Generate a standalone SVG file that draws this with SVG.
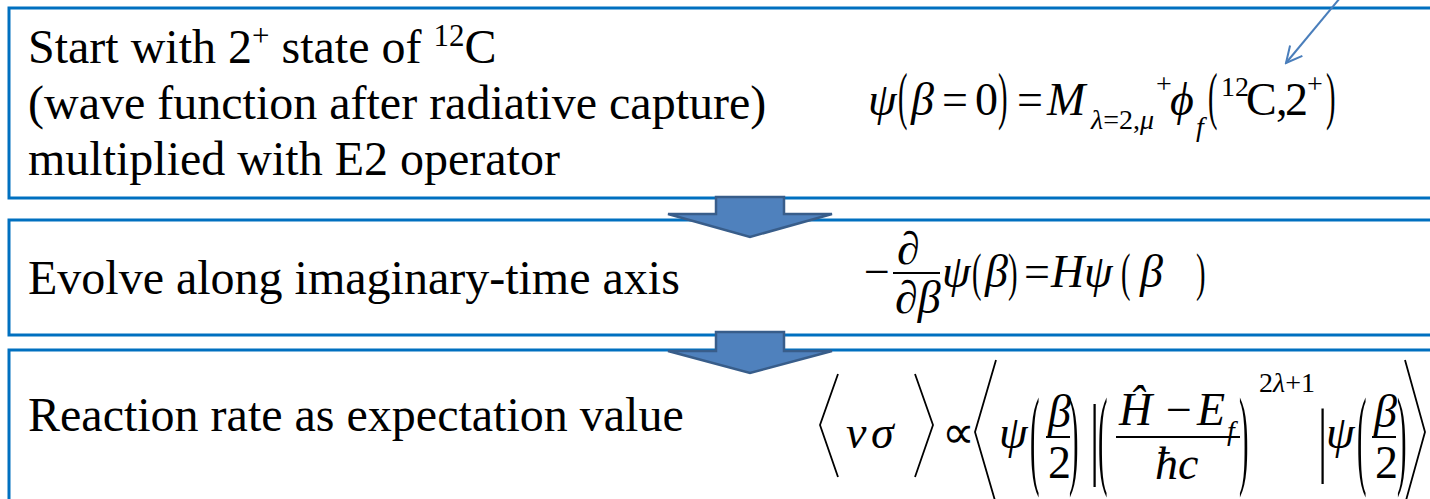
<svg xmlns="http://www.w3.org/2000/svg" width="1430" height="499" viewBox="0 0 1430 499">
<defs>
<style>
.box{fill:#fff;stroke:#0070C0;stroke-width:3}
.blk{fill:#4F81BD;stroke:#385D8A;stroke-width:2.5;stroke-linejoin:miter}
.t{font-size:48px;fill:#000}
.sup{font-size:31px}
.m{font-size:46px;font-style:italic;fill:#000}
.r{font-size:46px;fill:#000}
.s{font-size:28px;fill:#000}
.si{font-size:28px;font-style:italic;fill:#000}
.bar{stroke:#000;stroke-width:2}
.ang{fill:none;stroke:#000;stroke-width:1.8;stroke-linejoin:miter}
</style>
<marker id="vhead" viewBox="0 0 20 20" refX="18" refY="10" markerWidth="20" markerHeight="20" markerUnits="userSpaceOnUse" orient="auto">
<path d="M2,2 L18,10 L2,18" fill="none" stroke="#4A7EBB" stroke-width="2"/>
</marker>
</defs>

<g id="node1" font-family="'Liberation Serif', 'Times New Roman', serif">
<rect class="box" x="9" y="8" width="1440" height="190"/>
<text class="t" x="28" y="63">Start with 2<tspan class="sup" dy="-17">+</tspan><tspan dy="17"> state of </tspan><tspan class="sup" dy="-17">12</tspan><tspan dy="17">C</tspan></text>
<text class="t" x="28" y="119">(wave function after radiative capture)</text>
<text class="t" x="28" y="175">multiplied with E2 operator</text>
<g id="eq1">
<text class="m" x="868" y="115">ψ</text>
<text class="r" transform="translate(898,117) scale(0.62,1.4)">(</text>
<text class="m" x="911" y="115">β</text>
<text class="r" x="942" y="115">=</text>
<text class="r" x="975" y="115">0</text>
<text class="r" transform="translate(998,117) scale(0.62,1.4)">)</text>
<text class="r" x="1017" y="115">=</text>
<text class="m" x="1047" y="115">M</text>
<text class="s" x="1091" y="129"><tspan font-style="italic">λ</tspan>=2,<tspan font-style="italic">μ</tspan></text>
<text class="s" x="1156" y="93">+</text>
<text class="m" x="1170" y="115">ϕ</text>
<text class="si" x="1196" y="136">f</text>
<text class="r" transform="translate(1208,117) scale(0.62,1.4)">(</text>
<text class="s" x="1221" y="96" font-size="24">12</text>
<text class="r" x="1246" y="115">C</text>
<text class="r" x="1276" y="115">,</text>
<text class="r" x="1285" y="115">2</text>
<text class="s" x="1307" y="93" font-size="24">+</text>
<text class="r" transform="translate(1326,117) scale(0.62,1.4)">)</text>
</g>
</g>

<g id="node2" font-family="'Liberation Serif', 'Times New Roman', serif">
<rect class="box" x="9" y="220" width="1440" height="115"/>
<text class="t" x="28" y="294">Evolve along imaginary-time axis</text>
<g id="eq2">
<text class="r" x="864" y="287">−</text>
<text class="m" x="897" y="264">∂</text>
<line class="bar" x1="893" y1="273" x2="940" y2="273"/>
<text class="m" x="895" y="313">∂β</text>
<text class="m" x="942" y="287">ψ</text>
<text class="r" transform="translate(972,290) scale(0.62,1.15)">(</text>
<text class="m" x="985" y="287">β</text>
<text class="r" transform="translate(1008,290) scale(0.62,1.15)">)</text>
<text class="r" x="1024" y="287">=</text>
<text class="m" x="1051" y="287">H</text>
<text class="m" x="1084" y="287">ψ</text>
<text class="r" transform="translate(1121,290) scale(0.62,1.15)">(</text>
<text class="m" x="1140" y="287">β</text>
<text class="r" transform="translate(1196,290) scale(0.62,1.15)">)</text>
</g>
</g>

<g id="node3" font-family="'Liberation Serif', 'Times New Roman', serif">
<rect class="box" x="9" y="350" width="1440" height="160"/>
<text class="t" x="28" y="431">Reaction rate as expectation value</text>
<g id="eq3">
<polyline class="ang" points="838,374 820,425 838,477"/>
<text class="m" x="846" y="448">v</text>
<text class="m" x="871" y="448">σ</text>
<polyline class="ang" points="915,374 933,425 915,477"/>
<text class="r" x="942" y="448">∝</text>
<polyline class="ang" points="996,360 975,432 996,504"/>
<text class="m" x="999" y="448">ψ</text>
<text class="r" transform="translate(1030,474) scale(0.62,2.4)">(</text>
<text class="m" x="1048" y="427">β</text>
<line class="bar" x1="1046" y1="437" x2="1070" y2="437"/>
<text class="r" x="1048" y="478">2</text>
<text class="r" transform="translate(1069,474) scale(0.62,2.4)">)</text>
<text class="r" transform="translate(1090,468) scale(1,2.0)">|</text>
<text class="r" transform="translate(1098,474) scale(0.62,2.4)">(</text>
<text class="m" x="1119" y="425">Ĥ</text>
<text class="r" x="1166" y="425">−</text>
<text class="m" x="1197" y="425">E</text>
<text class="si" x="1227" y="440">f</text>
<line class="bar" x1="1116" y1="437" x2="1240" y2="437"/>
<text class="m" x="1155" y="479">ħc</text>
<text class="r" transform="translate(1239,474) scale(0.62,2.4)">)</text>
<text class="s" x="1259" y="392">2<tspan font-style="italic">λ</tspan>+1</text>
<text class="r" transform="translate(1318,466) scale(1,1.8)">|</text>
<text class="m" x="1326" y="448">ψ</text>
<text class="r" transform="translate(1357,474) scale(0.62,2.4)">(</text>
<text class="m" x="1374" y="427">β</text>
<line class="bar" x1="1372" y1="437" x2="1396" y2="437"/>
<text class="r" x="1375" y="478">2</text>
<text class="r" transform="translate(1397,474) scale(0.62,2.4)">)</text>
<polyline class="ang" points="1405,360 1425,432 1405,504"/>
</g>
</g>

<g id="connectors">
<line x1="1340" y1="-2" x2="1286" y2="63" stroke="#4A7EBB" stroke-width="2" marker-end="url(#vhead)"/>
<polygon class="blk" points="716,197 784,197 784,214 832,214 750,237 668,214 716,214"/>
<polygon class="blk" points="716,332 784,332 784,351 832,351 750,373 668,351 716,351"/>
</g>
</svg>
